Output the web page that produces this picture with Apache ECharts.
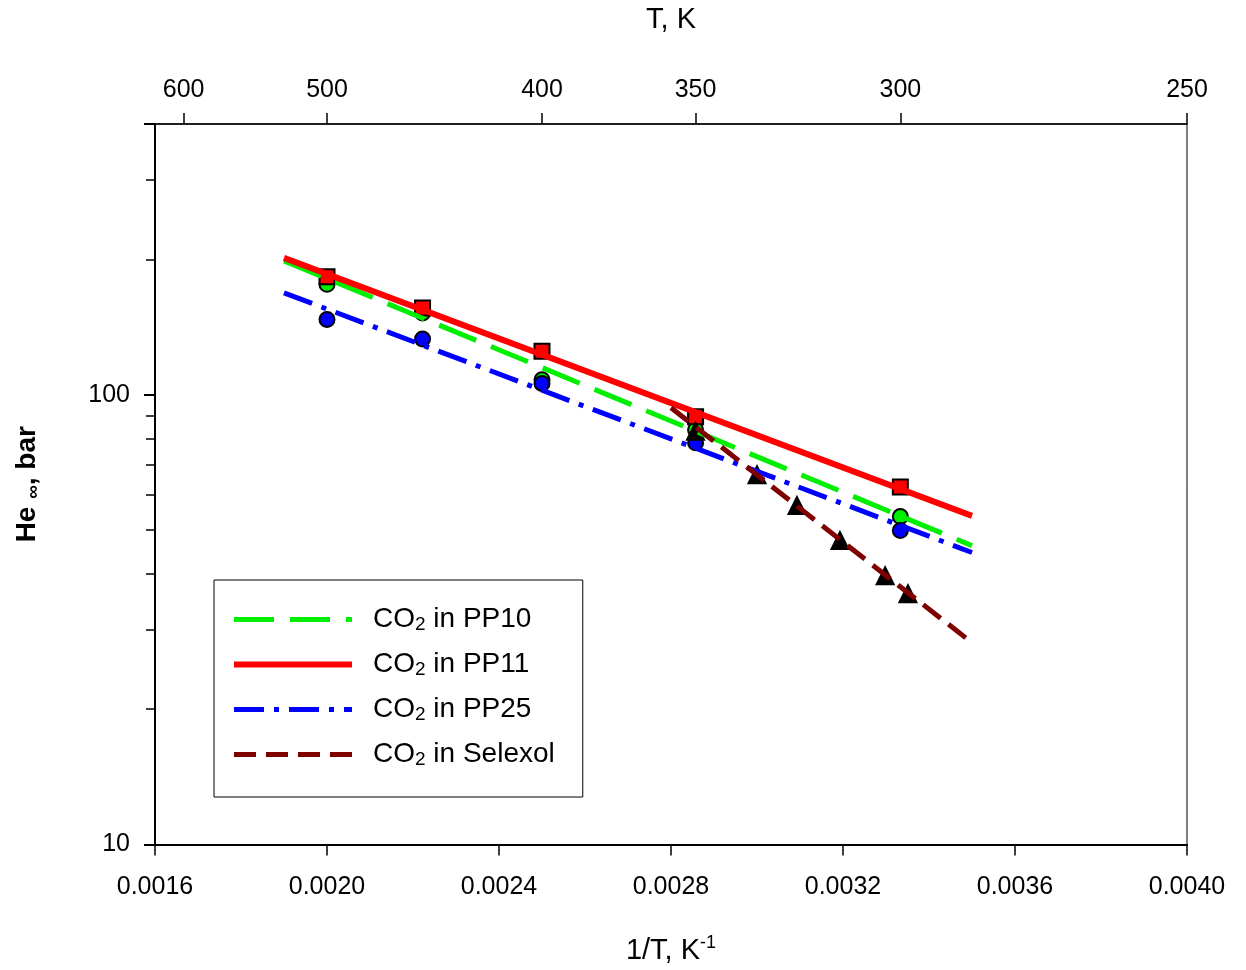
<!DOCTYPE html>
<html>
<head>
<meta charset="utf-8">
<script src="https://cdn.jsdelivr.net/npm/echarts@6/dist/echarts.min.js"></script>
<style>
  html, body { margin: 0; padding: 0; background: #fff; }
  #chart { width: 1246px; height: 970px; }
</style>
</head>
<body>
<div id="chart"></div>
<script>
// axis ranges / ticks
const xMin = 0.0016;
const xMax = 0.0040;
const xStep = 0.0004;
const tempTicks = [600, 500, 400, 350, 300, 250];
const yMinorTicks = [20, 30, 40, 50, 60, 70, 80, 90, 200, 300];

// measured points (x = 1/T)
const ppX = [1 / 500, 1 / 450, 1 / 400, 1 / 350, 1 / 300];
const pp10Pts = [176, 152, 108, 83.6, 53.6];
const pp11Pts = [183, 156, 125, 89.4, 62.4];
const pp25Pts = [147, 133, 106, 78.2, 49.9];
const selexolX = [0.002857, 0.0030, 0.003093, 0.003193, 0.003298, 0.003351];
const selexolPts = [83, 66.4, 56.7, 47.4, 39.6, 36.1];

// fitted lines (end points)
const fitX = [0.0019, 0.0035];
const pp10Fit = [198.5, 46.2];
const pp11Fit = [201.6, 53.8];
const pp25Fit = [168.5, 44.6];
const selexolFitX = [0.0028, 0.0035];
const selexolFit = [93.6, 28.1];

const names = ['PP10', 'PP11', 'PP25', 'Selexol'];

const zip = (xs, ys) => xs.map((x, i) => [x, ys[i]]);
const font = 'Liberation Sans, Arial, sans-serif';

const chart = echarts.init(document.getElementById('chart'));

const lineSeries = (nm, xs, ys, color, type, width) => ({
  name: 'CO2 in ' + nm,
  type: 'line',
  data: zip(xs, ys),
  symbol: 'none',
  color: color,
  z: 5,
  silent: true,
  lineStyle: { color: color, width: width, type: type, cap: 'butt' }
});

const markSeries = (nm, xs, ys, symbol, size, fill) => ({
  name: nm + ' data',
  type: 'scatter',
  data: zip(xs, ys),
  symbol: symbol,
  symbolSize: size,
  z: 3,
  itemStyle: { color: fill, borderColor: '#000', borderWidth: 2, opacity: 1 }
});

const legendText = nm => '{g|}{a|CO}{s|2}{a| in ' + nm + '}';

chart.setOption({
  animation: false,
  backgroundColor: '#fff',
  grid: { left: 155, right: 59, top: 124, bottom: 125, show: true, borderColor: '#000', borderWidth: 1 },
  legend: {
    data: names.map(n => ({ name: 'CO2 in ' + n, itemStyle: { opacity: 0 } })),
    orient: 'vertical',
    left: 214,
    top: 580,
    itemWidth: 118,
    itemHeight: 14,
    itemGap: 11,
    padding: [20, 28, 28, 17],
    borderColor: '#000',
    borderWidth: 1,
    backgroundColor: '#fff',
    lineStyle: { width: 'inherit' },
    formatter: name => legendText(name.replace('CO2 in ', '')),
    textStyle: {
      rich: {
        g: { width: 16 },
        a: { fontSize: 28, fontFamily: font, color: '#000', lineHeight: 29 },
        s: { fontSize: 19, fontFamily: font, color: '#000', lineHeight: 29, verticalAlign: 'bottom', padding: [15, 0, 0, 0] }
      }
    }
  },
  xAxis: [
    {
      type: 'value',
      position: 'bottom',
      min: xMin,
      max: xMax,
      interval: xStep,
      name: '{a|1/T, K}{s|-1}',
      nameLocation: 'middle',
      nameGap: 90,
      nameTextStyle: {
        rich: {
          a: { fontSize: 29, fontFamily: font, color: '#000' },
          s: { fontSize: 18, fontFamily: font, color: '#000', verticalAlign: 'top', padding: [0, 0, 14, 0] }
        }
      },
      axisLine: { lineStyle: { color: '#000', width: 2 } },
      axisTick: { inside: false, length: 11, lineStyle: { color: '#000', width: 1.5 } },
      axisLabel: { fontSize: 25, fontFamily: font, color: '#000', margin: 30, formatter: v => v.toFixed(4) },
      splitLine: { show: false }
    },
    {
      type: 'value',
      position: 'top',
      min: xMin,
      max: xMax,
      name: 'T, K',
      nameLocation: 'middle',
      nameGap: 90,
      nameTextStyle: { fontSize: 29, fontFamily: font, color: '#000' },
      axisLine: { lineStyle: { color: '#000', width: 1.5 } },
      axisTick: { length: 11, lineStyle: { color: '#000', width: 1.5 }, customValues: tempTicks.map(t => 1 / t) },
      axisLabel: {
        fontSize: 25, fontFamily: font, color: '#000', margin: 21,
        customValues: tempTicks.map(t => 1 / t),
        formatter: v => String(Math.round(1 / v))
      },
      splitLine: { show: false }
    }
  ],
  yAxis: [
    {
      type: 'log',
      logBase: 10,
      min: 10,
      max: 400,
      name: '{a|He }{s|∞}{a|, bar}',
      nameLocation: 'middle',
      nameGap: 112,
      nameRotate: 90,
      nameTextStyle: {
        rich: {
          a: { fontSize: 28, fontWeight: 'bold', fontFamily: font, color: '#000' },
          s: { fontSize: 19, fontWeight: 'bold', fontFamily: font, color: '#000', verticalAlign: 'bottom', padding: [12, 0, 0, 0] }
        }
      },
      axisLine: { lineStyle: { color: '#000', width: 2 } },
      axisTick: { length: 11, lineStyle: { color: '#000', width: 2 } },
      axisLabel: {
        fontSize: 25, fontFamily: font, color: '#000', margin: 25,
        formatter: v => (Math.abs(v - 10) < 1e-6 || Math.abs(v - 100) < 1e-6) ? String(Math.round(v)) : ''
      },
      splitLine: { show: false }
    },
    {
      // minor ticks of the log axis, in log10 units
      type: 'value',
      position: 'left',
      min: 1,
      max: Math.log10(400),
      axisLine: { show: false },
      axisTick: { length: 9, lineStyle: { color: '#000', width: 1.5 }, customValues: yMinorTicks.map(v => Math.log10(v)) },
      axisLabel: { show: false },
      splitLine: { show: false }
    }
  ],
  series: [
    markSeries('PP10', ppX, pp10Pts, 'circle', 15, '#00ee00'),
    markSeries('PP25', ppX, pp25Pts, 'circle', 15, '#0000ff'),
    markSeries('PP11', ppX, pp11Pts, 'rect', 15, '#ff0000'),
    markSeries('Selexol', selexolX, selexolPts, 'triangle', 17, '#000'),
    lineSeries('PP10', fitX, pp10Fit, '#00ee00', [40, 16], 5),
    lineSeries('PP11', fitX, pp11Fit, '#ff0000', 'solid', 6),
    lineSeries('PP25', fitX, pp25Fit, '#0000ff', [30, 10, 5, 10], 5),
    lineSeries('Selexol', selexolFitX, selexolFit, '#800000', [22, 10], 5)
  ]
});
</script>
</body>
</html>
